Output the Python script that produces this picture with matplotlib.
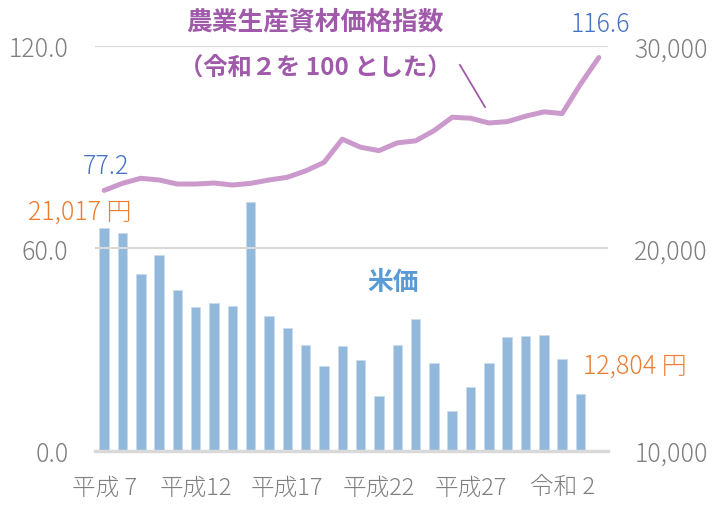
import matplotlib
matplotlib.use('Agg')
import matplotlib.pyplot as plt
import numpy as np

plt.rcParams['font.family'] = ['Noto Sans CJK JP', 'DejaVu Sans']

# 平成7 (1995) .. 令和4 (2022)
years = list(range(1995, 2023))
tick_idx = [0, 5, 10, 15, 20, 25]
tick_labels = ['平成 7', '平成12', '平成17', '平成22', '平成27', '令和 2']

# 米価 (円/60kg), 1995-2021
rice_price = [21017, 20780, 18740, 19680, 17970, 17110, 17310, 17180, 22300,
              16680, 16060, 15240, 14180, 15170, 14480, 12710, 15220, 16520,
              14340, 11970, 13160, 14330, 15610, 15690, 15730, 14540, 12804]

# 農業生産資材価格指数 (令和2 = 100), 1995-2022
index_vals = [77.2, 79.3, 80.8, 80.3, 79.1, 79.1, 79.4, 78.8, 79.3, 80.3,
              81.1, 83.0, 85.5, 92.4, 90.0, 89.0, 91.3, 91.9, 94.9, 98.9,
              98.6, 97.2, 97.6, 99.2, 100.5, 100.0, 108.7, 116.6]

GRAY = '#7F7F7F'
GRID = '#D9D9D9'
PURPLE = '#A05AAA'
LINE = '#CC99CC'
BLUE = '#4472C4'
ORANGE = '#ED7D31'
BAR = '#92B9DB'

fig = plt.figure(figsize=(7.14, 5.06), dpi=100)
ax = fig.add_axes([0.133, 0.107, 0.7185, 0.800])
ax2 = ax.twinx()

x_bar = np.arange(len(rice_price))
x_line = np.arange(len(index_vals))

ax2.bar(x_bar, rice_price, width=0.52, color=BAR, edgecolor='#C9DCEE', linewidth=0.6, zorder=2)
ax.plot(x_line, index_vals, color=LINE, lw=3.6, solid_capstyle='round', solid_joinstyle='round', zorder=3)

ax.set_zorder(ax2.get_zorder() + 1)
ax.patch.set_visible(False)

ax.set_xlim(-0.5, len(years) - 0.5)
ax.set_ylim(0, 120)
ax2.set_ylim(10000, 30000)

ax.set_yticks([0, 60, 120])
ax.set_yticklabels(['0.0', '60.0', '120.0'])
ax2.set_yticks([10000, 20000, 30000])
ax2.set_yticklabels(['10,000', '20,000', '30,000'])
ax.set_xticks(tick_idx)
ax.set_xticklabels(tick_labels)

for a in (ax, ax2):
    for s in a.spines.values():
        s.set_visible(False)
    a.tick_params(length=0, colors=GRAY, labelsize=18)
    for t in a.get_xticklabels() + a.get_yticklabels():
        t.set_fontweight('light')
ax.tick_params(axis='x', labelsize=17, pad=17)
ax.tick_params(axis='y', pad=19)
ax2.tick_params(axis='y', pad=19)

for v in [60, 120]:
    ax.axhline(v, color=GRID, lw=1.5, zorder=0)
ax.axhline(0, color=GRID, lw=2.5, zorder=4, clip_on=False)

# annotations
ax.text(11.5, 127.4, '農業生産資材価格指数', color=PURPLE, fontsize=18.5,
        fontweight='bold', ha='center', va='center', clip_on=False)
ax.text(11.5, 114.0, '（令和２を 100 とした）', color=PURPLE, fontsize=17.5,
        fontweight='bold', ha='center', va='center')
ax.plot([19.42, 20.79], [114.4, 101.9], color=PURPLE, lw=1.3)

ax.text(-1.15, 84.4, f'{index_vals[0]:.1f}', color=BLUE,
        fontsize=18, fontweight='light', ha='left', va='center')
ax.text(28.7, 126.5, f'{index_vals[-1]:.1f}', color=BLUE, fontweight='light',
        fontsize=18, ha='right', va='center', clip_on=False)

ax2.text(-4.15, 21850, f'{rice_price[0]:,} 円', color=ORANGE, fontsize=18,
         fontweight='light', ha='left', va='center', clip_on=False)
ax2.text(26.13, 14210, f'{rice_price[-1]:,} 円', color=ORANGE, fontsize=18,
         fontweight='light', ha='left', va='center', clip_on=False)
ax2.text(15.77, 18350, '米価', color='#5B9BD5', fontsize=18.5, fontweight='bold',
         ha='center', va='center')

fig.savefig('out.png', dpi=100)
